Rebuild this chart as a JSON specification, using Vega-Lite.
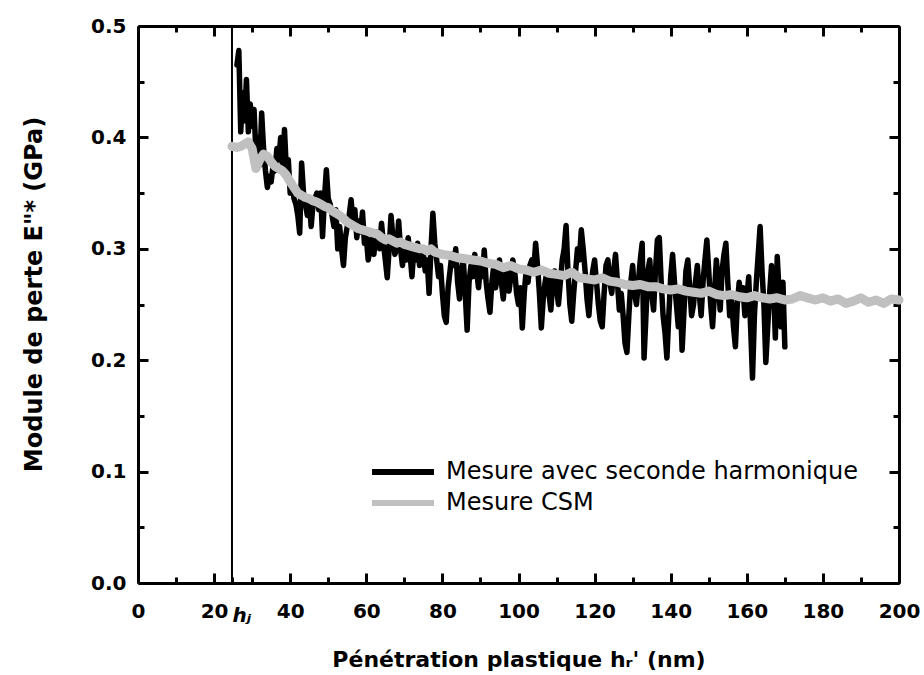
{
  "$schema": "https://vega.github.io/schema/vega-lite/v6.json",
  "width": 761,
  "height": 557,
  "autosize": "none",
  "padding": {"left": 138, "top": 26, "right": 25, "bottom": 92},
  "background": "white",
  "config": {
    "view": {"stroke": null},
    "font": "DejaVu Sans",
    "axis": {
      "grid": false,
      "domainColor": "black",
      "domainWidth": 3,
      "tickColor": "black",
      "tickWidth": 3,
      "labelFont": "DejaVu Sans",
      "labelFontWeight": "bold",
      "labelFontSize": 20,
      "labelColor": "black",
      "titleFont": "DejaVu Sans",
      "titleFontWeight": "bold",
      "titleFontSize": 22,
      "titleColor": "black"
    }
  },
  "datasets": {
    "harm": [
      {"x":26.0,"y":0.465},{"x":26.5,"y":0.478},{"x":27.0,"y":0.405},{"x":27.5,"y":0.44},{"x":28.0,"y":0.415},{"x":28.5,"y":0.452},{"x":29.0,"y":0.405},{"x":29.5,"y":0.43},
      {"x":30.0,"y":0.41},{"x":30.5,"y":0.425},{"x":31.0,"y":0.385},{"x":31.5,"y":0.40},{"x":32.0,"y":0.375},{"x":32.5,"y":0.422},{"x":33.0,"y":0.39},{"x":33.5,"y":0.37},
      {"x":34.0,"y":0.355},{"x":34.5,"y":0.365},{"x":35.0,"y":0.36},{"x":35.5,"y":0.375},{"x":36.0,"y":0.37},{"x":36.5,"y":0.39},{"x":37.0,"y":0.38},{"x":37.5,"y":0.40},
      {"x":38.0,"y":0.372},{"x":38.5,"y":0.407},{"x":39.0,"y":0.37},{"x":39.5,"y":0.38},{"x":40.0,"y":0.35},{"x":40.5,"y":0.36},{"x":41.0,"y":0.345},{"x":41.5,"y":0.34},
      {"x":42.0,"y":0.33},{"x":42.5,"y":0.314},{"x":43.0,"y":0.377},{"x":43.5,"y":0.35},{"x":44.0,"y":0.34},{"x":44.5,"y":0.33},{"x":45.0,"y":0.345},{"x":45.5,"y":0.32},
      {"x":46.0,"y":0.34},{"x":46.5,"y":0.345},{"x":47.0,"y":0.35},{"x":47.5,"y":0.335},{"x":48.0,"y":0.35},{"x":48.5,"y":0.311},{"x":49.0,"y":0.345},{"x":49.5,"y":0.371},
      {"x":50.0,"y":0.345},{"x":50.5,"y":0.34},{"x":51.0,"y":0.33},{"x":51.5,"y":0.32},{"x":52.0,"y":0.335},{"x":52.5,"y":0.30},{"x":53.0,"y":0.32},{"x":53.5,"y":0.30},
      {"x":54.0,"y":0.285},{"x":54.5,"y":0.31},{"x":55.0,"y":0.32},{"x":55.5,"y":0.33},{"x":56.0,"y":0.344},{"x":56.5,"y":0.325},{"x":57.0,"y":0.335},{"x":57.5,"y":0.31},
      {"x":58.0,"y":0.325},{"x":58.5,"y":0.315},{"x":59.0,"y":0.333},{"x":59.5,"y":0.305},{"x":60.0,"y":0.31},{"x":60.5,"y":0.29},{"x":61.0,"y":0.30},{"x":61.5,"y":0.31},
      {"x":62.0,"y":0.295},{"x":62.5,"y":0.315},{"x":63.0,"y":0.31},{"x":63.5,"y":0.30},{"x":64.0,"y":0.323},{"x":64.5,"y":0.305},{"x":65.0,"y":0.29},{"x":65.5,"y":0.274},
      {"x":66.0,"y":0.30},{"x":66.5,"y":0.33},{"x":67.0,"y":0.31},{"x":67.5,"y":0.295},{"x":68.0,"y":0.30},{"x":68.5,"y":0.325},{"x":69.0,"y":0.30},{"x":69.5,"y":0.285},
      {"x":70.0,"y":0.305},{"x":70.5,"y":0.29},{"x":71.0,"y":0.31},{"x":71.5,"y":0.295},{"x":72.0,"y":0.275},{"x":72.5,"y":0.30},{"x":73.0,"y":0.29},{"x":73.5,"y":0.305},
      {"x":74.0,"y":0.285},{"x":74.5,"y":0.30},{"x":75.0,"y":0.295},{"x":75.5,"y":0.28},{"x":76.0,"y":0.29},{"x":76.5,"y":0.26},{"x":77.0,"y":0.30},{"x":77.5,"y":0.332},
      {"x":78.0,"y":0.305},{"x":78.5,"y":0.29},{"x":79.0,"y":0.275},{"x":79.5,"y":0.285},{"x":80.0,"y":0.26},{"x":80.5,"y":0.24},{"x":81.0,"y":0.234},{"x":81.5,"y":0.265},
      {"x":82.0,"y":0.28},{"x":82.5,"y":0.295},{"x":83.0,"y":0.285},{"x":83.5,"y":0.30},{"x":84.0,"y":0.27},{"x":84.5,"y":0.255},{"x":85.0,"y":0.28},{"x":85.5,"y":0.29},
      {"x":86.0,"y":0.26},{"x":86.5,"y":0.227},{"x":87.0,"y":0.27},{"x":87.5,"y":0.285},{"x":88.0,"y":0.275},{"x":88.5,"y":0.295},{"x":89.0,"y":0.28},{"x":89.5,"y":0.265},
      {"x":90.0,"y":0.285},{"x":90.5,"y":0.275},{"x":91.0,"y":0.299},{"x":91.5,"y":0.27},{"x":92.0,"y":0.255},{"x":92.5,"y":0.243},{"x":93.0,"y":0.27},{"x":93.5,"y":0.285},
      {"x":94.0,"y":0.265},{"x":94.5,"y":0.28},{"x":95.0,"y":0.29},{"x":95.5,"y":0.27},{"x":96.0,"y":0.255},{"x":96.5,"y":0.275},{"x":97.0,"y":0.285},{"x":97.5,"y":0.262},
      {"x":98.0,"y":0.275},{"x":98.5,"y":0.29},{"x":99.0,"y":0.28},{"x":99.5,"y":0.26},{"x":100.0,"y":0.25},{"x":100.5,"y":0.265},{"x":101.0,"y":0.229},{"x":101.5,"y":0.26},
      {"x":102.0,"y":0.28},{"x":102.5,"y":0.27},{"x":103.0,"y":0.285},{"x":103.5,"y":0.29},{"x":104.0,"y":0.28},{"x":104.5,"y":0.305},{"x":105.0,"y":0.285},{"x":105.5,"y":0.26},
      {"x":106.0,"y":0.229},{"x":106.5,"y":0.255},{"x":107.0,"y":0.27},{"x":107.5,"y":0.28},{"x":108.0,"y":0.26},{"x":108.5,"y":0.245},{"x":109.0,"y":0.27},{"x":109.5,"y":0.28},
      {"x":110.0,"y":0.265},{"x":110.5,"y":0.25},{"x":111.0,"y":0.27},{"x":111.5,"y":0.29},{"x":112.0,"y":0.30},{"x":112.5,"y":0.321},{"x":113.0,"y":0.28},{"x":113.5,"y":0.25},
      {"x":114.0,"y":0.235},{"x":114.5,"y":0.26},{"x":115.0,"y":0.28},{"x":115.5,"y":0.30},{"x":116.0,"y":0.29},{"x":116.5,"y":0.317},{"x":117.0,"y":0.30},{"x":117.5,"y":0.28},
      {"x":118.0,"y":0.255},{"x":118.5,"y":0.24},{"x":119.0,"y":0.265},{"x":119.5,"y":0.28},{"x":120.0,"y":0.29},{"x":120.5,"y":0.27},{"x":121.0,"y":0.25},{"x":121.5,"y":0.235},
      {"x":122.0,"y":0.23},{"x":122.5,"y":0.26},{"x":123.0,"y":0.285},{"x":123.5,"y":0.29},{"x":124.0,"y":0.27},{"x":124.5,"y":0.26},{"x":125.0,"y":0.28},{"x":125.5,"y":0.295},
      {"x":126.0,"y":0.27},{"x":126.5,"y":0.245},{"x":127.0,"y":0.26},{"x":127.5,"y":0.24},{"x":128.0,"y":0.215},{"x":128.5,"y":0.207},{"x":129.0,"y":0.24},{"x":129.5,"y":0.27},
      {"x":130.0,"y":0.285},{"x":130.5,"y":0.26},{"x":131.0,"y":0.25},{"x":131.5,"y":0.27},{"x":132.0,"y":0.29},{"x":132.5,"y":0.305},{"x":133.0,"y":0.202},{"x":133.5,"y":0.24},
      {"x":134.0,"y":0.28},{"x":134.5,"y":0.29},{"x":135.0,"y":0.26},{"x":135.5,"y":0.245},{"x":136.0,"y":0.28},{"x":136.5,"y":0.308},{"x":137.0,"y":0.31},{"x":137.5,"y":0.27},
      {"x":138.0,"y":0.24},{"x":138.5,"y":0.225},{"x":139.0,"y":0.202},{"x":139.5,"y":0.24},{"x":140.0,"y":0.275},{"x":140.5,"y":0.295},{"x":141.0,"y":0.27},{"x":141.5,"y":0.25},
      {"x":142.0,"y":0.23},{"x":142.5,"y":0.26},{"x":143.0,"y":0.209},{"x":143.5,"y":0.245},{"x":144.0,"y":0.28},{"x":144.5,"y":0.29},{"x":145.0,"y":0.265},{"x":145.5,"y":0.24},
      {"x":146.0,"y":0.25},{"x":146.5,"y":0.27},{"x":147.0,"y":0.285},{"x":147.5,"y":0.26},{"x":148.0,"y":0.24},{"x":148.5,"y":0.27},{"x":149.0,"y":0.29},{"x":149.5,"y":0.308},
      {"x":150.0,"y":0.28},{"x":150.5,"y":0.25},{"x":151.0,"y":0.23},{"x":151.5,"y":0.26},{"x":152.0,"y":0.29},{"x":152.5,"y":0.27},{"x":153.0,"y":0.245},{"x":153.5,"y":0.28},
      {"x":154.0,"y":0.295},{"x":154.5,"y":0.305},{"x":155.0,"y":0.27},{"x":155.5,"y":0.24},{"x":156.0,"y":0.255},{"x":156.5,"y":0.23},{"x":157.0,"y":0.212},{"x":157.5,"y":0.25},
      {"x":158.0,"y":0.27},{"x":158.5,"y":0.255},{"x":159.0,"y":0.265},{"x":159.5,"y":0.24},{"x":160.0,"y":0.255},{"x":160.5,"y":0.275},{"x":161.0,"y":0.23},{"x":161.5,"y":0.184},
      {"x":162.0,"y":0.24},{"x":162.5,"y":0.27},{"x":163.0,"y":0.295},{"x":163.5,"y":0.32},{"x":164.0,"y":0.28},{"x":164.5,"y":0.25},{"x":165.0,"y":0.198},{"x":165.5,"y":0.23},
      {"x":166.0,"y":0.26},{"x":166.5,"y":0.285},{"x":167.0,"y":0.27},{"x":167.5,"y":0.22},{"x":168.0,"y":0.293},{"x":168.5,"y":0.26},{"x":169.0,"y":0.23},{"x":169.5,"y":0.27},
      {"x":170.0,"y":0.212}
    ],
    "csm": [
      {"x":24.7,"y":0.392},{"x":26,"y":0.391},{"x":27,"y":0.392},{"x":28,"y":0.394},{"x":29,"y":0.396},{"x":30,"y":0.39},{"x":31,"y":0.372},{"x":32,"y":0.38},
      {"x":33,"y":0.385},{"x":34,"y":0.383},{"x":35,"y":0.378},{"x":36,"y":0.374},{"x":37,"y":0.372},{"x":38,"y":0.37},{"x":39,"y":0.366},{"x":40,"y":0.36},
      {"x":41,"y":0.355},{"x":42,"y":0.35},{"x":43,"y":0.348},{"x":44,"y":0.346},{"x":45,"y":0.345},{"x":46,"y":0.343},{"x":47,"y":0.342},{"x":48,"y":0.34},
      {"x":49,"y":0.338},{"x":50,"y":0.337},{"x":51,"y":0.334},{"x":52,"y":0.332},{"x":53,"y":0.33},{"x":54,"y":0.327},{"x":55,"y":0.324},{"x":56,"y":0.322},
      {"x":57,"y":0.32},{"x":58,"y":0.318},{"x":59,"y":0.317},{"x":60,"y":0.316},{"x":61,"y":0.315},{"x":62,"y":0.314},{"x":63,"y":0.313},{"x":64,"y":0.31},
      {"x":65,"y":0.308},{"x":66,"y":0.309},{"x":67,"y":0.307},{"x":68,"y":0.305},{"x":69,"y":0.306},{"x":70,"y":0.304},{"x":71,"y":0.303},{"x":72,"y":0.302},
      {"x":73,"y":0.301},{"x":74,"y":0.3},{"x":75,"y":0.3},{"x":76,"y":0.298},{"x":77,"y":0.3},{"x":78,"y":0.297},{"x":79,"y":0.296},{"x":80,"y":0.295},
      {"x":82,"y":0.294},{"x":84,"y":0.292},{"x":86,"y":0.291},{"x":88,"y":0.29},{"x":90,"y":0.289},{"x":92,"y":0.287},{"x":94,"y":0.286},{"x":96,"y":0.283},
      {"x":98,"y":0.285},{"x":100,"y":0.282},{"x":102,"y":0.281},{"x":104,"y":0.279},{"x":106,"y":0.281},{"x":108,"y":0.278},{"x":110,"y":0.277},{"x":112,"y":0.276},
      {"x":114,"y":0.279},{"x":116,"y":0.274},{"x":118,"y":0.273},{"x":120,"y":0.272},{"x":122,"y":0.274},{"x":124,"y":0.271},{"x":126,"y":0.27},{"x":128,"y":0.268},
      {"x":130,"y":0.267},{"x":132,"y":0.268},{"x":134,"y":0.266},{"x":136,"y":0.266},{"x":138,"y":0.264},{"x":140,"y":0.263},{"x":142,"y":0.264},{"x":144,"y":0.262},
      {"x":146,"y":0.261},{"x":148,"y":0.26},{"x":150,"y":0.262},{"x":152,"y":0.259},{"x":154,"y":0.258},{"x":156,"y":0.259},{"x":158,"y":0.257},{"x":160,"y":0.256},
      {"x":162,"y":0.258},{"x":164,"y":0.256},{"x":166,"y":0.255},{"x":168,"y":0.256},{"x":170,"y":0.254},{"x":172,"y":0.255},{"x":174,"y":0.258},{"x":176,"y":0.256},
      {"x":178,"y":0.254},{"x":180,"y":0.256},{"x":182,"y":0.253},{"x":184,"y":0.255},{"x":186,"y":0.251},{"x":188,"y":0.253},{"x":190,"y":0.256},{"x":192,"y":0.252},
      {"x":194,"y":0.254},{"x":196,"y":0.251},{"x":198,"y":0.255},{"x":200,"y":0.254}
    ],
    "hj": [{"x": 24.7}]
  },
  "layer": [
    {
      "data": {"name": "hj"},
      "mark": {"type": "rule", "color": "black", "strokeWidth": 2},
      "encoding": {
        "x": {"field": "x", "type": "quantitative", "scale": {"domain": [0, 200], "nice": false, "zero": false}, "axis": null}
      }
    },
    {
      "data": {"name": "harm"},
      "mark": {"type": "line", "strokeWidth": 5.5, "strokeJoin": "round", "strokeCap": "round"},
      "encoding": {
        "x": {
          "field": "x", "type": "quantitative",
          "scale": {"domain": [0, 200], "nice": false, "zero": false},
          "axis": {
            "orient": "bottom",
            "values": [0,10,20,24.7,30,40,50,60,70,80,90,100,110,120,130,140,150,160,170,180,190,200],
            "labelExpr": "datum.value == 24.7 ? 'hⱼ' : (datum.value % 20 == 0 ? datum.label : '')",
            "format": "d",
            "labelFontSize": 20,
            "labelFontStyle": {"condition": {"test": "datum.value == 24.7", "value": "italic"}, "value": "normal"},
            "labelAlign": {"condition": {"test": "datum.value == 24.7", "value": "left"}, "value": "center"},
            "tickSize": {"condition": {"test": "datum.value % 20 == 0", "value": -10}, "value": -6},
            "labelPadding": 28,
            "labelFlush": false,
            "labelOverlap": false,
            "title": "Pénétration plastique hᵣ' (nm)",
            "titleFontSize": 22,
            "titlePadding": 24
          }
        },
        "y": {
          "field": "y", "type": "quantitative",
          "scale": {"domain": [0, 0.5], "nice": false},
          "axis": {
            "orient": "left",
            "values": [0,0.05,0.1,0.15,0.2,0.25,0.3,0.35,0.4,0.45,0.5],
            "format": ".1f",
            "labelExpr": "round(datum.value*100) % 10 == 0 ? datum.label : ''",
            "labelFontSize": 20,
            "tickSize": {"condition": {"test": "round(datum.value*100) % 10 == 0", "value": -10}, "value": -6},
            "labelPadding": 22,
            "labelFlush": false,
            "labelOverlap": false,
            "title": "Module de perte E\"* (GPa)",
            "titleFontSize": 24,
            "titlePadding": 44,
            "titleY": 268
          }
        },
        "color": {
          "datum": "Mesure avec seconde harmonique",
          "type": "nominal",
          "scale": {"domain": ["Mesure avec seconde harmonique", "Mesure CSM"], "range": ["#000000", "#c0c0c0"]},
          "legend": {
            "orient": "none",
            "legendX": 253,
            "legendY": 434,
            "title": null,
            "symbolType": "M-6.2,0H6.2",
            "symbolSize": 100,
            "symbolStrokeWidth": 6,
            "labelFont": "DejaVu Sans",
            "labelFontSize": 24,
            "labelColor": "black",
            "labelLimit": 0,
            "labelOffset": 31,
            "rowPadding": 7
          }
        }
      }
    },
    {
      "data": {"name": "csm"},
      "mark": {"type": "line", "strokeWidth": 9, "strokeJoin": "round", "strokeCap": "round"},
      "encoding": {
        "x": {
          "field": "x", "type": "quantitative",
          "scale": {"domain": [0, 200], "nice": false, "zero": false},
          "axis": {
            "orient": "top",
            "values": [0,10,20,30,40,50,60,70,80,90,100,110,120,130,140,150,160,170,180,190,200],
            "labels": false,
            "tickSize": {"condition": {"test": "datum.value % 20 == 0", "value": -10}, "value": -6},
            "title": null
          }
        },
        "y": {
          "field": "y", "type": "quantitative",
          "scale": {"domain": [0, 0.5], "nice": false},
          "axis": {
            "orient": "right",
            "values": [0,0.05,0.1,0.15,0.2,0.25,0.3,0.35,0.4,0.45,0.5],
            "labels": false,
            "tickSize": {"condition": {"test": "round(datum.value*100) % 10 == 0", "value": -10}, "value": -6},
            "title": null
          }
        },
        "color": {"datum": "Mesure CSM", "type": "nominal"}
      }
    }
  ],
  "resolve": {"axis": {"x": "independent", "y": "independent"}}
}
